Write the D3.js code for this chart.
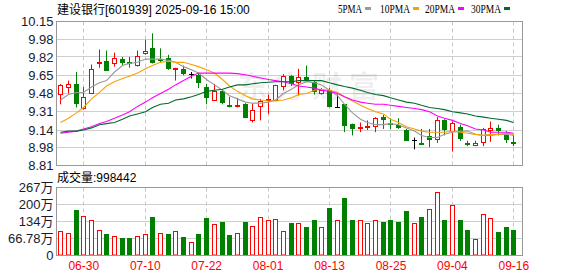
<!DOCTYPE html>
<html>
<head>
<meta charset="utf-8">
<script src="https://cdn.jsdelivr.net/npm/d3@7"></script>
<style>
  body { margin: 0; background: #fff; }
  svg text { font-family: "Liberation Sans", Arial, "Noto Sans CJK SC", sans-serif; }
</style>
</head>
<body>
<svg id="chart"></svg>
<script>
    // 画布尺寸
    const width = 578;
    const height = 276;

    // 交易日
    const dates = ["06-25","06-26","06-27","06-30","07-01","07-02","07-03","07-04","07-07","07-08",
        "07-09","07-10","07-11","07-14","07-15","07-16","07-17","07-18","07-21","07-22",
        "07-23","07-24","07-25","07-28","07-29","07-30","07-31","08-01","08-04","08-05",
        "08-06","08-07","08-08","08-11","08-12","08-13","08-14","08-15","08-18","08-19",
        "08-20","08-21","08-22","08-25","08-26","08-27","08-28","08-29","09-01","09-02",
        "09-03","09-04","09-05","09-08","09-09","09-10","09-11","09-12","09-15","09-16"];

    const openP = [9.47,9.53,9.57,9.34,9.48,9.76,9.78,9.75,9.80,9.77,
        9.74,9.85,9.90,9.80,9.81,9.71,9.71,9.66,9.65,9.54,
        9.41,9.50,9.37,9.36,9.38,9.22,9.35,9.41,9.41,9.54,
        9.64,9.58,9.63,9.59,9.48,9.51,9.35,9.38,9.20,9.16,
        9.17,9.17,9.26,9.21,9.19,9.14,9.04,9.02,9.08,9.05,
        9.23,9.12,9.17,9.02,8.99,9.02,9.13,9.16,9.11,9.03];
    const highP = [9.57,9.60,9.68,9.54,9.75,9.89,9.88,9.86,9.82,9.82,
        9.88,9.98,10.04,9.90,9.84,9.72,9.74,9.68,9.67,9.57,
        9.57,9.52,9.45,9.44,9.39,9.39,9.43,9.47,9.56,9.66,
        9.65,9.71,9.74,9.60,9.53,9.53,9.47,9.38,9.20,9.21,
        9.23,9.26,9.28,9.25,9.25,9.15,9.07,9.15,9.15,9.26,
        9.24,9.22,9.19,9.04,9.04,9.16,9.22,9.19,9.13,9.09];
    const lowP = [9.38,9.48,9.35,9.33,9.48,9.72,9.69,9.73,9.74,9.72,
        9.73,9.84,9.76,9.77,9.70,9.60,9.65,9.62,9.53,9.38,
        9.41,9.38,9.35,9.35,9.25,9.21,9.23,9.29,9.41,9.51,
        9.55,9.46,9.60,9.47,9.47,9.35,9.35,9.12,9.09,9.12,
        9.14,9.12,9.15,9.15,9.15,9.04,8.96,9.01,8.98,9.02,
        9.09,8.94,9.04,8.99,8.99,8.99,9.03,9.09,9.02,8.99];
    const closeP = [9.56,9.57,9.38,9.45,9.71,9.77,9.69,9.81,9.76,9.75,
        9.83,9.88,9.76,9.78,9.71,9.72,9.66,9.66,9.58,9.44,
        9.50,9.39,9.36,9.37,9.25,9.33,9.41,9.43,9.56,9.64,
        9.57,9.63,9.61,9.49,9.51,9.35,9.35,9.18,9.15,9.17,
        9.18,9.25,9.23,9.20,9.16,9.04,9.04,9.01,9.05,9.23,
        9.14,9.21,9.06,9.01,9.02,9.15,9.16,9.13,9.05,9.02];

    // 成交量（手）
    const volume = [970000,903000,1768000,1571000,1402000,1009000,825000,773000,668000,668000,
        773000,852000,1532000,891000,825000,970000,746000,511000,825000,1465000,
        1218000,1309000,786000,903000,1309000,1178000,1493000,1375000,1440000,982000,
        1270000,1296000,1139000,1375000,1100000,1859000,1375000,2252000,1375000,1375000,
        1270000,1375000,1309000,1375000,1309000,1742000,1296000,1532000,1807000,2514000,
        1375000,2003000,1375000,1021000,655000,1611000,1480000,916000,1139000,998442];

    // 均线
    const ma5 = [9.42,9.47,9.49,9.49,9.54,9.58,9.60,9.68,9.74,9.76,
        9.77,9.80,9.80,9.80,9.79,9.77,9.73,9.70,9.67,9.61,
        9.56,9.51,9.46,9.43,9.40,9.39,9.39,9.40,9.42,9.48,
        9.52,9.56,9.59,9.58,9.56,9.51,9.46,9.38,9.30,9.24,
        9.21,9.19,9.19,9.20,9.19,9.16,9.13,9.09,9.07,9.07,
        9.10,9.12,9.13,9.13,9.10,9.09,9.09,9.10,9.10,9.09];
    const ma10 = [9.21,9.25,9.30,9.35,9.43,9.49,9.55,9.59,9.62,9.64,
        9.67,9.71,9.74,9.77,9.78,9.77,9.77,9.75,9.73,9.70,
        9.67,9.61,9.55,9.50,9.46,9.43,9.42,9.41,9.41,9.42,
        9.44,9.47,9.48,9.51,9.52,9.51,9.49,9.45,9.41,9.37,
        9.34,9.31,9.29,9.24,9.21,9.17,9.15,9.13,9.12,9.12,
        9.12,9.13,9.12,9.11,9.10,9.09,9.10,9.10,9.11,9.10];
    const ma20 = [9.11,9.12,9.13,9.15,9.17,9.20,9.22,9.25,9.28,9.31,
        9.36,9.40,9.44,9.48,9.52,9.56,9.60,9.64,9.67,9.67,
        9.67,9.67,9.67,9.665,9.655,9.64,9.625,9.61,9.60,9.59,
        9.57,9.55,9.54,9.53,9.51,9.50,9.48,9.45,9.42,9.40,
        9.39,9.38,9.38,9.37,9.36,9.35,9.34,9.33,9.31,9.27,
        9.25,9.23,9.20,9.18,9.15,9.14,9.12,9.12,9.12,9.11];
    const ma30 = [9.12,9.13,9.13,9.14,9.16,9.19,9.20,9.21,9.24,9.27,
        9.29,9.31,9.35,9.38,9.39,9.42,9.43,9.45,9.47,9.50,
        9.51,9.52,9.54,9.56,9.56,9.57,9.58,9.585,9.59,9.59,
        9.59,9.60,9.60,9.60,9.60,9.58,9.56,9.545,9.53,9.51,
        9.49,9.47,9.46,9.44,9.42,9.40,9.39,9.37,9.35,9.34,
        9.33,9.31,9.30,9.29,9.27,9.26,9.25,9.24,9.23,9.21];

    // 刻度
    const priceTicks = [10.15, 9.98, 9.82, 9.65, 9.48, 9.31, 9.14, 8.98, 8.81];
    const priceTickLabels = ["10.15","9.98","9.82","9.65","9.48","9.31","9.14","8.98","8.81"];
    const volTicks = [2671200, 2003400, 1335600, 667800, 0];
    const volTickLabels = ["267万","200万","134万","66.78万","0"];
    const dateTicks = ["06-30","07-10","07-22","08-01","08-13","08-25","09-04","09-16"];

    const maNames = ["5PMA","10PMA","20PMA","30PMA"];
    const maColors = ["#9a9a9a","#f5a200","#ff00ff","#006b30"];

    const titleText = "建设银行[601939] 2025-09-16 15:00";

    // 布局
    const left = 56.5, right = 522.5;
    const priceTop = 21.5, priceBottom = 165.5;
    const volTop = 187.5, volBottom = 255.5;
    const step = 7.68;
    const red = "#ff0000", green = "#008000";

    const svg = d3.select("#chart")
        .attr("width", width)
        .attr("height", height);

    svg.append("rect").attr("width", width).attr("height", height).attr("fill", "#fff");

    // 比例尺
    const x = d3.scaleBand()
        .domain(dates)
        .range([56.4, 56.4 + dates.length * step]);
    const xc = d => Math.round(x(d) + x.bandwidth() / 2) + 0.5;

    const y = d3.scaleLinear().domain([8.81, 10.15]).range([priceBottom, priceTop]);
    const yv = d3.scaleLinear().domain([0, 2671200]).range([volBottom, volTop]);
    const snap = v => Math.round(v - 0.5) + 0.5;

    // 网格
    const grid = svg.append("g");
    grid.selectAll(".hp")
        .data(priceTicks)
        .enter()
        .append("line")
        .attr("x1", left).attr("x2", right)
        .attr("y1", d => snap(y(d))).attr("y2", d => snap(y(d)))
        .attr("stroke", "#cfcfcf");
    grid.selectAll(".hv")
        .data(volTicks)
        .enter()
        .append("line")
        .attr("x1", left).attr("x2", right)
        .attr("y1", d => snap(yv(d))).attr("y2", d => snap(yv(d)))
        .attr("stroke", "#cfcfcf");
    [[priceTop, priceBottom], [volTop, volBottom]].forEach(([t, b]) => {
        grid.selectAll(null)
            .data(dateTicks)
            .enter()
            .append("line")
            .attr("x1", d => xc(d)).attr("x2", d => xc(d))
            .attr("y1", t).attr("y2", b)
            .attr("stroke", "#c8c8c8")
            .attr("stroke-dasharray", "4,3");
    });

    // 水印
    svg.append("text")
        .attr("x", 238)
        .attr("y", 97)
        .attr("font-size", 30)
        .attr("letter-spacing", 7)
        .attr("fill", "#000")
        .attr("fill-opacity", 0.08)
        .style("font-family", "'Noto Sans CJK SC'")
        .style("font-weight", "bold")
        .text("东方财富");

    // K线
    const candles = svg.append("g");
    dates.forEach((d, i) => {
        const cx = xc(d);
        const o = openP[i], c = closeP[i];
        const col = c > o ? red : (c < o ? green : "#000");
        candles.append("line")
            .attr("x1", cx).attr("x2", cx)
            .attr("y1", y(highP[i])).attr("y2", y(lowP[i]))
            .attr("stroke", col);
        if (c === o) {
            candles.append("line")
                .attr("x1", cx - 2.5).attr("x2", cx + 2.5)
                .attr("y1", snap(y(o))).attr("y2", snap(y(o)))
                .attr("stroke", col);
            return;
        }
        const top = Math.round(y(Math.max(o, c)));
        const bot = Math.max(top + 2, Math.round(y(Math.min(o, c))));
        if (c > o) {
            candles.append("rect")
                .attr("x", cx - 2).attr("width", 4)
                .attr("y", top + 0.5).attr("height", bot - top - 1)
                .attr("fill", "#fff").attr("stroke", col);
        } else {
            candles.append("rect")
                .attr("x", cx - 2.5).attr("width", 5)
                .attr("y", top).attr("height", bot - top)
                .attr("fill", col);
        }
    });

    // 均线
    [ma5, ma10, ma20, ma30].forEach((series, k) => {
        const line = d3.line()
            .x((v, i) => xc(dates[i]))
            .y(v => y(v));
        svg.append("path")
            .datum(series)
            .attr("fill", "none")
            .attr("stroke", maColors[k])
            .attr("stroke-width", 1.1)
            .attr("d", line);
    });

    // 成交量
    const vols = svg.append("g");
    dates.forEach((d, i) => {
        const cx = xc(d);
        const up = i === 0 ? closeP[i] >= openP[i] : closeP[i] >= closeP[i - 1];
        const top = Math.round(yv(volume[i]));
        if (up) {
            vols.append("rect")
                .attr("x", cx - 2).attr("width", 4)
                .attr("y", top + 0.5).attr("height", volBottom - top - 1)
                .attr("fill", "#fff").attr("stroke", red);
        } else {
            vols.append("rect")
                .attr("x", cx - 2.5).attr("width", 5)
                .attr("y", top).attr("height", volBottom - 0.5 - top)
                .attr("fill", green);
        }
    });

    // 边框
    svg.append("rect")
        .attr("x", left).attr("y", priceTop)
        .attr("width", right - left).attr("height", priceBottom - priceTop)
        .attr("fill", "none").attr("stroke", "#999");
    svg.append("rect")
        .attr("x", left).attr("y", volTop)
        .attr("width", right - left).attr("height", volBottom - volTop)
        .attr("fill", "none").attr("stroke", "#999");

    // 坐标轴
    const yAxis = d3.axisLeft(y)
        .tickValues(priceTicks)
        .tickFormat((d, i) => priceTickLabels[i])
        .tickSize(0)
        .tickPadding(3);
    svg.append("g")
        .attr("transform", `translate(${left},0)`)
        .call(yAxis)
        .call(g => g.select(".domain").remove())
        .selectAll("text")
        .style("font-size", "13px")
        .style("fill", "#1a1a2e");

    const vAxis = d3.axisLeft(yv)
        .tickValues(volTicks)
        .tickFormat((d, i) => volTickLabels[i])
        .tickSize(0)
        .tickPadding(3);
    svg.append("g")
        .attr("transform", `translate(${left},0)`)
        .call(vAxis)
        .call(g => g.select(".domain").remove())
        .selectAll("text")
        .style("font-size", "13px")
        .style("fill", "#1a1a2e");

    const xAxis = d3.axisBottom(x)
        .tickValues(dateTicks)
        .tickSize(0)
        .tickPadding(6);
    svg.append("g")
        .attr("transform", `translate(0.5,${volBottom})`)
        .call(xAxis)
        .call(g => g.select(".domain").remove())
        .selectAll("text")
        .style("font-size", "12px")
        .style("fill", red);

    // 标题
    svg.append("text")
        .attr("x", 57)
        .attr("y", 14)
        .style("font-size", "12px")
        .attr("fill", "#000")
        .text(titleText);

    svg.append("text")
        .attr("x", 57)
        .attr("y", 181.5)
        .style("font-size", "12px")
        .attr("fill", "#000")
        .text("成交量:" + volume[volume.length - 1]);

    // 图例
    const legendX = [338, 380, 425, 471];
    const legend = svg.append("g");
    maNames.forEach((name, k) => {
        const w = name.length * 6;
        legend.append("text")
            .attr("x", legendX[k])
            .attr("y", 12.5)
            .attr("textLength", w)
            .attr("lengthAdjust", "spacingAndGlyphs")
            .style("font-family", "'Liberation Serif', serif")
            .style("font-size", "12px")
            .attr("fill", "#000")
            .text(name);
        legend.append("rect")
            .attr("x", legendX[k] + w + 3)
            .attr("y", 7)
            .attr("width", 6)
            .attr("height", 3)
            .attr("fill", maColors[k]);
    });
</script>
</body>
</html>
